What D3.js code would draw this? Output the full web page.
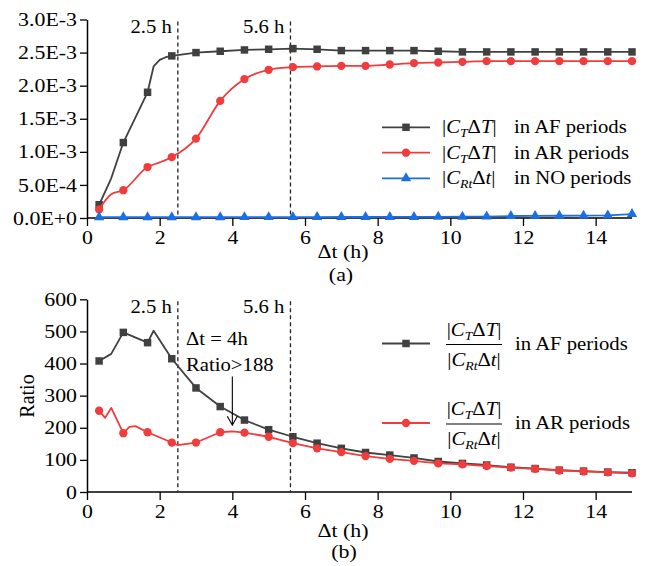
<!DOCTYPE html>
<html>
<head>
<meta charset="utf-8">
<script src="https://cdn.jsdelivr.net/npm/d3@7"></script>
</head>
<body style="margin:0;background:#fff">
<svg id="chart" width="646" height="566" style="display:block"></svg>
<script>
/** DATA *********************************************************************/
// time axis in hours, data sampled in minutes (markers every 40 min from 20)
const xTickValues = [0, 2, 4, 6, 8, 10, 12, 14];
const xMinorValues = [1, 3, 5, 7, 9, 11, 13, 15];
const markTimes = [2.5, 5.6];

// panel (a), values in units of 1e-3
const topYTicks = [0, 0.5, 1, 1.5, 2, 2.5, 3];
const topYTickLabels = ['0.0E+0', '5.0E-4', '1.0E-3', '1.5E-3', '2.0E-3', '2.5E-3', '3.0E-3'];
const topYMinor = [0.25, 0.75, 1.25, 1.75, 2.25, 2.75];

const afMinutesA = [20, 40, 60, 100, 110, 120, 130, 140, 180, 220, 260, 300, 340, 380, 420, 460, 500, 540, 580, 620, 660, 700, 740, 780, 820, 860, 900];
const afValuesA = [0.20, 0.60, 1.14, 1.90, 2.29, 2.39, 2.43, 2.45, 2.50, 2.52, 2.54, 2.55, 2.56, 2.55, 2.53, 2.53, 2.53, 2.53, 2.52, 2.51, 2.51, 2.51, 2.51, 2.51, 2.51, 2.51, 2.51];

const arMinutesA = [20, 40, 60, 100, 120, 140, 180, 220, 260, 300, 340, 380, 420, 460, 500, 540, 580, 620, 660, 700, 740, 780, 820, 860, 900];
const arValuesA = [0.13, 0.36, 0.42, 0.77, 0.84, 0.92, 1.20, 1.77, 2.10, 2.24, 2.28, 2.29, 2.30, 2.30, 2.32, 2.34, 2.35, 2.36, 2.37, 2.37, 2.37, 2.37, 2.37, 2.37, 2.37];

const noMinutesA = [20, 60, 100, 140, 180, 220, 260, 300, 340, 380, 420, 460, 500, 540, 580, 620, 660, 700, 740, 780, 820, 860, 900];
const noValuesA = [0.012, 0.012, 0.012, 0.012, 0.012, 0.012, 0.013, 0.013, 0.014, 0.014, 0.015, 0.015, 0.016, 0.016, 0.018, 0.02, 0.022, 0.03, 0.032, 0.034, 0.036, 0.04, 0.06];

// panel (b), ratio
const botYTicks = [0, 100, 200, 300, 400, 500, 600];
const botYMinor = [50, 150, 250, 350, 450, 550];

const afMinutesB = [20, 40, 60, 100, 110, 140, 180, 220, 260, 300, 340, 380, 420, 460, 500, 540, 580, 620, 660, 700, 740, 780, 820, 860, 900];
const afValuesB = [408, 430, 497, 465, 502, 415, 324, 266, 224, 194, 172, 152, 136, 123, 115, 106, 95, 89, 84, 77, 73, 68, 65, 62, 60];

const arMinutesB = [20, 30, 40, 60, 70, 80, 100, 140, 150, 180, 220, 240, 260, 300, 340, 380, 420, 460, 500, 540, 580, 620, 660, 700, 740, 780, 820, 860, 900];
const arValuesB = [253, 231, 262, 183, 203, 205, 186, 154, 146, 154, 186, 189, 185, 172, 152, 136, 124, 112, 103, 97, 89, 86, 81, 76, 72, 67, 64, 61, 58];

/** SETUP ********************************************************************/
const FONT = 'Liberation Serif';
const STRETCH = 1.15; // the original figure is slightly widened
const COLORS = { af: '#404040', ar: '#f03c3c', no: '#1c6fe3' };
const svg = d3.select('#chart').attr('font-family', FONT);

function toSeries(minutes, values) {
	return minutes.map((m, i) => ({ h: m / 60, v: values[i], mark: (m - 20) % 40 === 0 }));
}

// stretch glyphs horizontally through textLength
function widen(sel) {
	sel.each(function () {
		this.setAttribute('font-family', FONT);
		const len = this.getComputedTextLength();
		if (len > 0) {
			this.setAttribute('textLength', (len * STRETCH).toFixed(1));
			this.setAttribute('lengthAdjust', 'spacingAndGlyphs');
		}
	});
}

const symbols = {
	af: d3.symbol(d3.symbolSquare, 56),
	ar: d3.symbol(d3.symbolCircle, 54),
	no: d3.symbol(d3.symbolTriangle, 46)
};

function drawPanel({ y0, y1, yDomain, yTicks, yLabels, yMinor, series }) {
	const x = d3.scaleLinear([0, 15], [87, 632]);
	const y = d3.scaleLinear(yDomain, [y0, y1]);

	/** AXES ******************************************************************/
	const bottom = svg.append('g').attr('transform', `translate(0,${y0})`);
	bottom.call(d3.axisBottom(x).tickValues(xMinorValues).tickSize(5).tickSizeOuter(0).tickFormat(''));
	bottom.call(d3.axisBottom(x).tickValues(xTickValues).tickSize(8).tickSizeOuter(0).tickPadding(5));
	bottom.selectAll('path.domain').attr('d', `M87,0H632`);

	const left = svg.append('g').attr('transform', 'translate(87,0)');
	left.call(d3.axisLeft(y).tickValues(yMinor).tickSize(4).tickSizeOuter(0).tickFormat(''));
	left.call(d3.axisLeft(y).tickValues(yTicks).tickSize(7).tickSizeOuter(0).tickPadding(3)
		.tickFormat((d, i) => yLabels ? yLabels[i] : d));

	svg.selectAll('.domain').attr('stroke-width', 1.5);
	svg.selectAll('.tick line').attr('stroke-width', 1.3);
	[bottom, left].forEach((g) => {
		g.attr('font-family', FONT);
		g.selectAll('text').attr('font-size', 19).attr('fill', '#000').call(widen);
	});

	/** MARK LINES ************************************************************/
	markTimes.forEach((t) => {
		svg.append('line')
			.attr('x1', x(t)).attr('x2', x(t))
			.attr('y1', y(yDomain[1]) + 2).attr('y2', y0)
			.attr('stroke', '#222').attr('stroke-width', 1.3).attr('stroke-dasharray', '4,3');
		svg.append('text')
			.attr('x', x(t) - 6).attr('y', y(yDomain[1]) + 13.5)
			.attr('text-anchor', 'end').attr('font-size', 18)
			.text(`${t} h`).call(widen);
	});

	/** DATA ******************************************************************/
	series.forEach((s) => {
		const data = toSeries(s.minutes, s.values);
		const line = d3.line().x((d) => x(d.h)).y((d) => y(d.v))
			.curve(s.smooth ? d3.curveMonotoneX : d3.curveLinear);
		const g = svg.append('g');
		g.append('path')
			.attr('d', line(data))
			.attr('fill', 'none').attr('stroke', COLORS[s.key]).attr('stroke-width', 1.8)
			.attr('stroke-linejoin', 'round');
		g.selectAll('path.pt')
			.data(data.filter((d) => d.mark))
			.enter()
			.append('path')
			.attr('class', 'pt')
			.attr('d', symbols[s.key])
			.attr('transform', (d) => `translate(${x(d.h)},${y(d.v)})`)
			.attr('fill', COLORS[s.key]);
	});

	return { x, y };
}

/** PANEL (a) ****************************************************************/
drawPanel({
	y0: 218, y1: 19.5, yDomain: [0, 3], yTicks: topYTicks, yLabels: topYTickLabels, yMinor: topYMinor,
	series: [
		{ key: 'af', minutes: afMinutesA, values: afValuesA },
		{ key: 'ar', minutes: arMinutesA, values: arValuesA, smooth: true },
		{ key: 'no', minutes: noMinutesA, values: noValuesA }
	]
});

/** PANEL (b) ****************************************************************/
const panelB = drawPanel({
	y0: 492, y1: 299.3, yDomain: [0, 600], yTicks: botYTicks, yLabels: null, yMinor: botYMinor,
	series: [
		{ key: 'af', minutes: afMinutesB, values: afValuesB },
		{ key: 'ar', minutes: arMinutesB, values: arValuesB }
	]
});

/** TITLES *******************************************************************/
function label(x, y, txt, size) {
	return svg.append('text').attr('x', x).attr('y', y).attr('text-anchor', 'middle')
		.attr('font-size', size).text(txt).call(widen);
}
label(343, 258, 'Δt (h)', 19);
label(341, 281, '(a)', 19);
label(343, 537, 'Δt (h)', 19);
label(344, 558, '(b)', 19);

svg.append('text')
	.attr('transform', 'translate(34,396) rotate(-90)')
	.attr('text-anchor', 'middle').attr('font-size', 20).attr('font-family', FONT)
	.text('Ratio');

/** ANNOTATION ***************************************************************/
svg.append('text').attr('x', 186).attr('y', 345).attr('font-size', 18).text('Δt = 4h').call(widen);
svg.append('text').attr('x', 186).attr('y', 371).attr('font-size', 18).text('Ratio>188').call(widen);
{
	const ax = panelB.x(4);
	const tip = panelB.y(208);
	svg.append('path')
		.attr('d', `M${ax},${panelB.y(360)}V${tip}M${ax - 5},${tip - 9}L${ax},${tip}L${ax + 5},${tip - 9}`)
		.attr('fill', 'none').attr('stroke', '#000').attr('stroke-width', 1.1);
}

/** LEGENDS ******************************************************************/
function mathTerm(parts, x, y, anchor) {
	const el = svg.append('text').attr('x', x).attr('y', y).attr('font-size', 18)
		.attr('text-anchor', anchor || 'start');
	parts.forEach((p) => {
		el.append('tspan')
			.attr('font-style', p.italic ? 'italic' : 'normal')
			.attr('font-size', p.sub ? 12 : 18)
			.attr('dy', p.sub ? 4 : (p.after ? -4 : 0))
			.text(p.t);
	});
	el.call(widen);
	return el;
}

const termT = [
	{ t: '|' }, { t: 'C', italic: true }, { t: 'T', italic: true, sub: true },
	{ t: 'Δ', after: true }, { t: 'T', italic: true }, { t: '|' }
];
const termR = [
	{ t: '|' }, { t: 'C', italic: true }, { t: 'Rt', italic: true, sub: true },
	{ t: 'Δ', after: true }, { t: 't', italic: true }, { t: '|' }
];

function legendSwatch(key, cy) {
	svg.append('line').attr('x1', 382).attr('x2', 430).attr('y1', cy).attr('y2', cy)
		.attr('stroke', COLORS[key]).attr('stroke-width', 1.8);
	svg.append('path').attr('d', symbols[key]).attr('transform', `translate(406,${cy})`)
		.attr('fill', COLORS[key]);
}

const legendA = [
	{ key: 'af', term: termT, text: 'in AF periods', cy: 127.3 },
	{ key: 'ar', term: termT, text: 'in AR periods', cy: 152.7 },
	{ key: 'no', term: termR, text: 'in NO periods', cy: 178.3 }
];
legendA.forEach((l) => {
	legendSwatch(l.key, l.cy);
	mathTerm(l.term, 442, l.cy + 6);
	svg.append('text').attr('x', 514).attr('y', l.cy + 6).attr('font-size', 18).text(l.text).call(widen);
});

const legendB = [
	{ key: 'af', text: 'in AF periods', cy: 343.5 },
	{ key: 'ar', text: 'in AR periods', cy: 423 }
];
legendB.forEach((l) => {
	legendSwatch(l.key, l.cy);
	mathTerm(termT, 474, l.cy - 8, 'middle');
	mathTerm(termR, 474, l.cy + 22, 'middle');
	svg.append('line').attr('x1', 446).attr('x2', 502).attr('y1', l.cy + 1).attr('y2', l.cy + 1)
		.attr('stroke', '#000').attr('stroke-width', 1);
	svg.append('text').attr('x', 515).attr('y', l.cy + 6).attr('font-size', 18).text(l.text).call(widen);
});
</script>
</body>
</html>
